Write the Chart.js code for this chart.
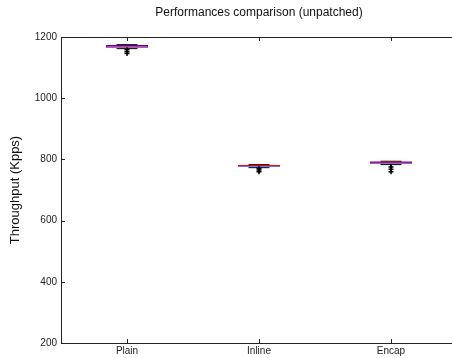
<!DOCTYPE html>
<html>
<head>
<meta charset="utf-8">
<script src="https://cdn.jsdelivr.net/npm/chart.js@4"></script>
<style>
  html, body { margin: 0; padding: 0; background: #fff; overflow: hidden; }
  #wrap { width: 457px; height: 358px; }
</style>
</head>
<body>
<div id="wrap"><canvas id="perfChart"></canvas></div>
<script>
// boxplot stats (Kpps)
const categories = ['Plain', 'Inline', 'Encap'];
const medians = [1170, 780, 791];
const q1 = [1165, 776, 786];
const q3 = [1174, 782, 793];
const whiskerLow = [1162, 773, 783];
const whiskerHigh = [1175, 783, 794];
const outliers = [[1158, 1152, 1146], [770, 765, 760], [775, 768, 760]];
const yTicks = [200, 400, 600, 800, 1000, 1200];

const outlierPoints = [];
outliers.forEach((list, i) => {
    list.forEach(v => outlierPoints.push({ x: categories[i], y: v }));
});

// inward ticks + top frame, like the matlab axes
const frameTicks = {
    id: 'frameTicks',
    afterDatasetsDraw(chart) {
        const ctx = chart.ctx;
        const { left, right, top, bottom } = chart.chartArea;
        const xs = chart.scales.x, ys = chart.scales.y;
        ctx.save();
        ctx.strokeStyle = '#222';
        ctx.lineWidth = 1;
        ctx.beginPath();
        ctx.moveTo(left, top + 0.5);
        ctx.lineTo(right, top + 0.5);
        ys.ticks.forEach((t, i) => {
            const py = Math.round(ys.getPixelForTick(i)) + 0.5;
            ctx.moveTo(left, py);
            ctx.lineTo(left + 4, py);
        });
        xs.ticks.forEach((t, i) => {
            const px = Math.round(xs.getPixelForTick(i)) + 0.5;
            ctx.moveTo(px, bottom);
            ctx.lineTo(px, bottom - 4);
            ctx.moveTo(px, top);
            ctx.lineTo(px, top + 4);
        });
        ctx.stroke();
        ctx.restore();
    }
};

const ctx = document.getElementById('perfChart').getContext('2d');

new Chart(ctx, {
    type: 'bar',
    data: {
        labels: categories,
        datasets: [
            {
                // median
                type: 'line',
                data: medians,
                showLine: false,
                pointStyle: 'line',
                pointRadius: 21,
                borderColor: '#ff0000',
                borderWidth: 1,
                order: 0
            },
            {
                // whisker caps
                type: 'line',
                data: whiskerLow,
                showLine: false,
                pointStyle: 'line',
                pointRadius: 10.5,
                borderColor: '#000',
                borderWidth: 1,
                order: 1
            },
            {
                type: 'line',
                data: whiskerHigh,
                showLine: false,
                pointStyle: 'line',
                pointRadius: 10.5,
                borderColor: '#000',
                borderWidth: 1,
                order: 1
            },
            {
                // box
                data: categories.map((c, i) => [q1[i], q3[i]]),
                backgroundColor: 'rgba(0,0,0,0)',
                borderColor: '#0000ff',
                borderWidth: 1,
                borderSkipped: false,
                barPercentage: 0.32,
                categoryPercentage: 1,
                grouped: false,
                order: 2
            },
            {
                // whiskers
                data: categories.map((c, i) => [outliers[i][outliers[i].length - 1], whiskerLow[i]]),
                backgroundColor: '#000',
                barThickness: 1,
                grouped: false,
                order: 3
            },
            {
                // outliers
                type: 'line',
                data: outlierPoints,
                showLine: false,
                pointStyle: 'cross',
                pointRadius: 2.5,
                borderColor: '#000',
                borderWidth: 1.5,
                order: 1
            }
        ]
    },
    options: {
        responsive: true,
        maintainAspectRatio: false,
        animation: false,
        layout: { padding: 0, autoPadding: false },
        plugins: {
            legend: { display: false },
            tooltip: { enabled: false },
            title: {
                display: true,
                text: 'Performances comparison (unpatched)',
                fullSize: false,
                color: '#111',
                font: { family: 'Liberation Sans', size: 12, weight: 'normal' },
                padding: { top: 5, bottom: 17.6 }
            }
        },
        scales: {
            x: {
                grid: { display: false, drawTicks: false },
                border: { display: true, color: '#222', width: 1 },
                ticks: {
                    color: '#222',
                    padding: 2,
                    font: { family: 'Liberation Sans', size: 10 }
                },
                afterFit: function (scale) { scale.height = 15; }
            },
            y: {
                min: 200,
                max: 1200,
                afterBuildTicks: function (scale) {
                    scale.ticks = yTicks.map(v => ({ value: v }));
                },
                grid: { display: false, drawTicks: false },
                border: { display: true, color: '#222', width: 1 },
                ticks: {
                    color: '#222',
                    padding: 4,
                    font: { family: 'Liberation Sans', size: 10 },
                    callback: function (value) { return String(value); }
                },
                title: {
                    display: true,
                    text: 'Throughput (Kpps)',
                    color: '#111',
                    font: { family: 'Liberation Sans', size: 13 },
                    padding: { top: 8, bottom: 0 }
                },
                afterFit: function (scale) { scale.width = 61; }
            }
        }
    },
    plugins: [frameTicks]
});
</script>
</body>
</html>
